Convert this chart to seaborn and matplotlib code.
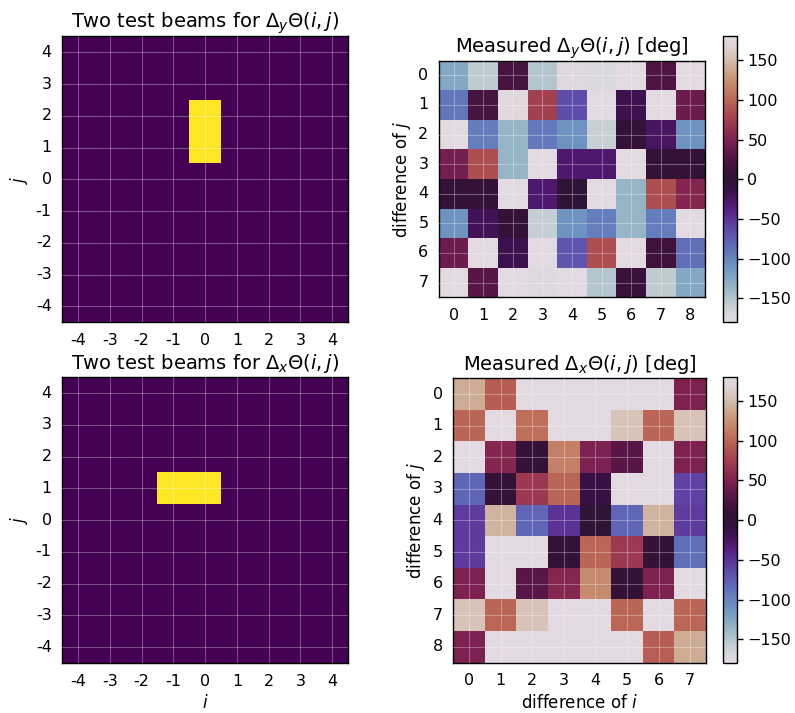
import numpy as np
import pandas as pd
import seaborn as sns
import matplotlib
matplotlib.use("Agg")
import matplotlib.pyplot as plt

# beam grid coordinates
coords = [-4, -3, -2, -1, 0, 1, 2, 3, 4]

# cells lit by the two test beams (i, j)
beams_y = [(0, 1), (0, 2)]
beams_x = [(-1, 1), (0, 1)]

# measured phase differences [deg], rows = difference of j, cols = difference of i
dy_rows = [0, 1, 2, 3, 4, 5, 6, 7]
dy_cols = [0, 1, 2, 3, 4, 5, 6, 7, 8]
dy_theta = [
    [-125, -155, 20, -150, 176, -172, 178, 25, 178],
    [-90, 20, 175, 75, -65, 178, -15, 178, 40],
    [178, -95, -135, -92, -110, -160, 5, -25, -110],
    [45, 85, -135, 178, -30, -30, 178, 5, 5],
    [5, 5, 178, -30, 0, 178, -135, 85, 55],
    [-110, -20, 5, -158, -110, -95, -135, -95, 178],
    [40, 178, -15, 178, -70, 85, 178, 15, -85],
    [178, 30, 178, -175, 178, -150, 10, -155, -125],
]

dx_rows = [0, 1, 2, 3, 4, 5, 6, 7, 8]
dx_cols = [0, 1, 2, 3, 4, 5, 6, 7]
dx_theta = [
    [140, 95, 178, 178, 178, 178, 178, 50],
    [100, 178, 105, 178, 178, 155, 100, 155],
    [178, 55, 5, 115, 50, 30, 178, 50],
    [-80, 5, 70, 100, -10, 178, 178, -60],
    [-55, 145, -80, -50, 0, -80, 145, -55],
    [-55, 178, 178, 5, 100, 70, 5, -85],
    [50, 178, 30, 55, 120, 5, 50, 178],
    [155, 100, 155, 178, 178, 100, 178, 100],
    [50, 178, 178, 178, 178, 178, 95, 140],
]

TICK_FS = 11.5
LABEL_FS = 12
TITLE_FS = 14


def beam_frame(cells):
    grid = pd.DataFrame(0.0, index=coords[::-1], columns=coords)
    for i, j in cells:
        grid.loc[j, i] = 1.0
    return grid


def style_axes(ax):
    for s in ax.spines.values():
        s.set_visible(True)
        s.set_color("black")
        s.set_linewidth(1.0)
    ax.tick_params(axis="both", direction="out", length=4, width=1,
                   labelsize=TICK_FS, colors="black")
    ax.grid(True, color="white", alpha=0.3, linewidth=0.8)
    ax.set_axisbelow(False)


sns.set_style("white")
plt.rcParams["font.family"] = ["DejaVu Sans"]
plt.rcParams["text.color"] = "black"
plt.rcParams["axes.labelcolor"] = "black"

fig = plt.figure(figsize=(7.95, 7.13), dpi=100)

ax_by = fig.add_axes([0.078, 0.548, 0.360, 0.401])
ax_bx = fig.add_axes([0.078, 0.070, 0.360, 0.401])
ax_my = fig.add_axes([0.552, 0.583, 0.335, 0.332])
ax_mx = fig.add_axes([0.570, 0.070, 0.318, 0.400])
cax_y = fig.add_axes([0.909, 0.548, 0.018, 0.401])
cax_x = fig.add_axes([0.909, 0.070, 0.018, 0.401])

# left: the two test beams
for ax, cells, title, xlab in [
    (ax_by, beams_y, r"Two test beams for $\Delta_y\Theta(i,j)$", None),
    (ax_bx, beams_x, r"Two test beams for $\Delta_x\Theta(i,j)$", r"$i$"),
]:
    sns.heatmap(beam_frame(cells), cmap="viridis", vmin=0, vmax=1, cbar=False,
                square=True, ax=ax)
    ax.set_yticklabels(ax.get_yticklabels(), rotation=0)
    ax.set_xticklabels(ax.get_xticklabels(), rotation=0)
    style_axes(ax)
    ax.set_title(title, fontsize=TITLE_FS, color="black")
    ax.set_ylabel(r"$j$", fontsize=LABEL_FS, color="black")
    ax.set_xlabel(xlab if xlab else "", fontsize=LABEL_FS, color="black")

# right: measured phase differences
for ax, cax, vals, rows, cols, title, xlab in [
    (ax_my, cax_y, dy_theta, dy_rows, dy_cols,
     r"Measured $\Delta_y\Theta(i,j)$ [deg]", None),
    (ax_mx, cax_x, dx_theta, dx_rows, dx_cols,
     r"Measured $\Delta_x\Theta(i,j)$ [deg]", r"difference of $i$"),
]:
    df = pd.DataFrame(vals, index=rows, columns=cols)
    sns.heatmap(df, cmap="twilight", vmin=-180, vmax=180, square=True,
                ax=ax, cbar_ax=cax, cbar_kws={"ticks": [-150, -100, -50, 0, 50, 100, 150]})
    ax.set_yticklabels(ax.get_yticklabels(), rotation=0)
    ax.set_xticklabels(ax.get_xticklabels(), rotation=0)
    style_axes(ax)
    ax.set_title(title, fontsize=TITLE_FS, color="black")
    ax.set_ylabel(r"difference of $j$", fontsize=LABEL_FS, color="black")
    ax.set_xlabel(xlab if xlab else "", fontsize=LABEL_FS, color="black")
    cax.tick_params(labelsize=TICK_FS, length=4, width=1, colors="black")
    cb = ax.collections[0].colorbar
    cb.outline.set_visible(True)
    cb.outline.set_edgecolor("black")
    cb.outline.set_linewidth(1.0)

fig.savefig("out.png", dpi=100)
